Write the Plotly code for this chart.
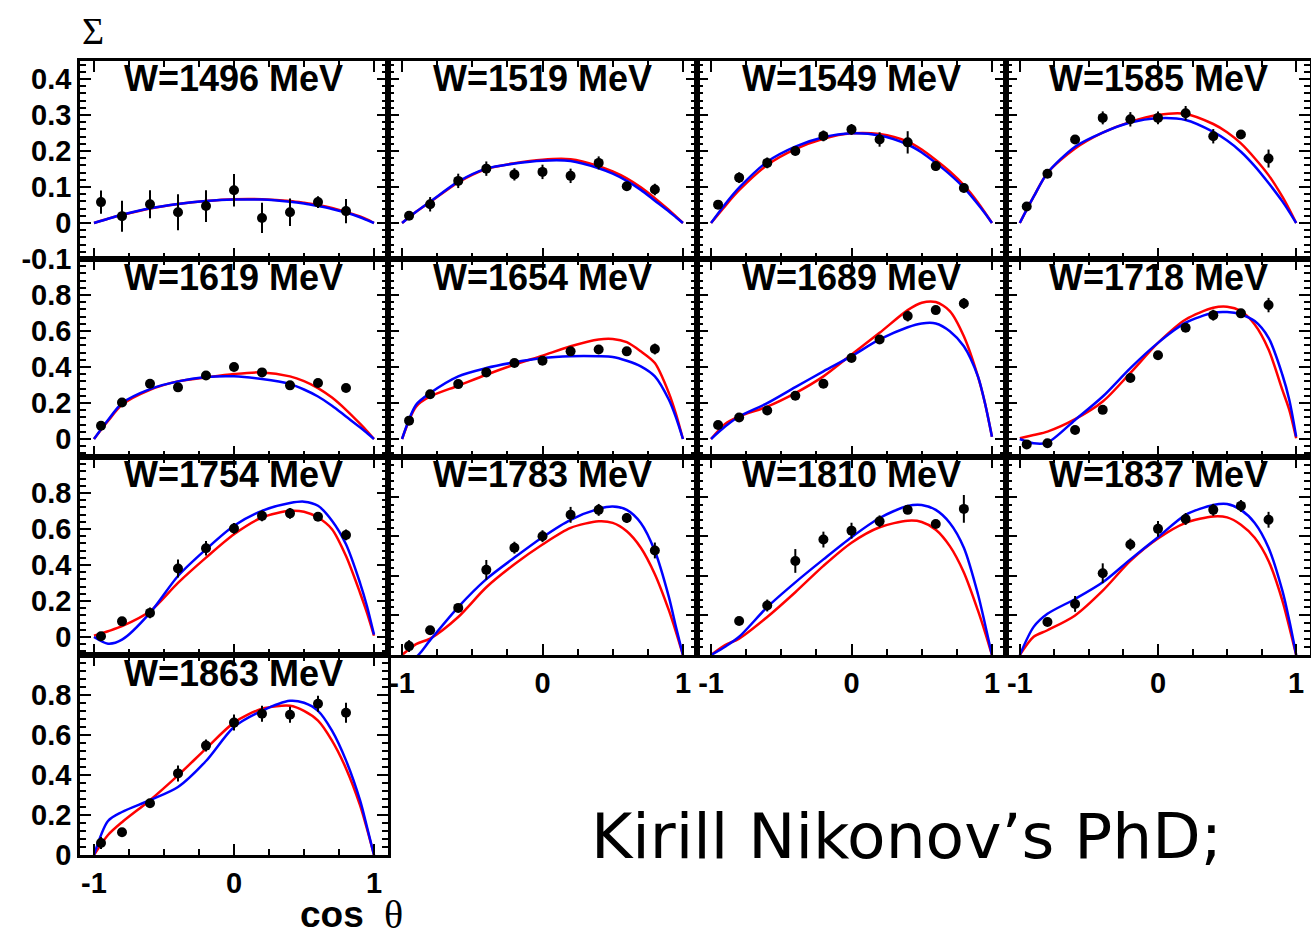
import plotly.graph_objects as go

# Photon energy bins (one panel each)
W_MEV = [1496, 1519, 1549, 1585, 1619, 1654, 1689, 1718, 1754, 1783, 1810, 1837, 1863]

# Measured beam asymmetry: cos(theta) bin centres, values and errors
COS_POINTS = [-0.95, -0.8, -0.6, -0.4, -0.2, 0.0, 0.2, 0.4, 0.6, 0.8]
SIGMA = [
    [0.058, 0.019, 0.052, 0.030, 0.047, 0.091, 0.014, 0.030, 0.058, 0.033],
    [0.020, 0.052, 0.117, 0.151, 0.135, 0.142, 0.131, 0.167, 0.102, 0.093],
    [0.051, 0.126, 0.167, 0.200, 0.242, 0.260, 0.232, 0.224, 0.158, 0.097],
    [0.046, 0.137, 0.232, 0.292, 0.288, 0.292, 0.305, 0.241, 0.246, 0.179],
    [0.074, 0.203, 0.307, 0.287, 0.353, 0.400, 0.370, 0.298, 0.311, 0.283],
    [0.102, 0.249, 0.305, 0.370, 0.422, 0.435, 0.487, 0.497, 0.487, 0.500],
    [0.078, 0.119, 0.158, 0.240, 0.307, 0.450, 0.553, 0.683, 0.716, 0.753],
    [-0.030, -0.024, 0.050, 0.162, 0.339, 0.465, 0.618, 0.688, 0.698, 0.744],
    [0.004, 0.087, 0.134, 0.381, 0.493, 0.603, 0.673, 0.687, 0.668, 0.567],
    [0.045, 0.125, 0.238, 0.430, 0.542, 0.600, 0.708, 0.733, 0.692, 0.528],
    [None, 0.172, 0.250, 0.475, 0.583, 0.628, 0.675, 0.733, 0.662, 0.738],
    [None, 0.167, 0.258, 0.413, 0.558, 0.637, 0.687, 0.733, 0.753, 0.683],
    [0.060, 0.114, 0.259, 0.408, 0.547, 0.662, 0.706, 0.701, 0.756, 0.711],
]
SIGMA_ERR = [
    [0.032, 0.043, 0.039, 0.050, 0.044, 0.045, 0.042, 0.038, 0.016, 0.034],
    [0.010, 0.020, 0.020, 0.020, 0.017, 0.020, 0.020, 0.018, 0.012, 0.016],
    [0.008, 0.015, 0.015, 0.012, 0.015, 0.015, 0.020, 0.031, 0.013, 0.012],
    [0.010, 0.010, 0.010, 0.018, 0.020, 0.018, 0.020, 0.020, 0.012, 0.025],
    [0.012, 0.012, 0.012, 0.015, 0.015, 0.015, 0.015, 0.020, 0.015, 0.015],
    [0.015, 0.015, 0.015, 0.015, 0.015, 0.015, 0.015, 0.025, 0.015, 0.030],
    [0.015, 0.015, 0.015, 0.015, 0.015, 0.015, 0.015, 0.030, 0.015, 0.030],
    [0.020, 0.015, 0.015, 0.015, 0.015, 0.020, 0.020, 0.030, 0.015, 0.040],
    [0.015, 0.020, 0.030, 0.050, 0.040, 0.030, 0.030, 0.030, 0.015, 0.030],
    [0.030, 0.015, 0.020, 0.050, 0.030, 0.030, 0.040, 0.030, 0.025, 0.040],
    [0.000, 0.020, 0.030, 0.060, 0.040, 0.040, 0.030, 0.020, 0.020, 0.070],
    [0.000, 0.020, 0.040, 0.050, 0.030, 0.040, 0.030, 0.030, 0.030, 0.040],
    [0.030, 0.020, 0.020, 0.040, 0.030, 0.040, 0.040, 0.040, 0.040, 0.050],
]

# Partial-wave analysis solutions sampled in cos(theta)
COS_CURVE = [-1.0, -0.9, -0.8, -0.6, -0.4, -0.2, 0.0, 0.2, 0.4, 0.5, 0.6, 0.7, 0.8, 0.9, 0.95, 1.0]
FIT_RED = [
    [0, 0.012, 0.022, 0.040, 0.053, 0.061, 0.066, 0.066, 0.061, 0.056, 0.050, 0.042, 0.031, 0.018, 0.010, 0],
    [0, 0.031, 0.058, 0.113, 0.150, 0.166, 0.176, 0.177, 0.158, 0.143, 0.124, 0.099, 0.069, 0.036, 0.018, 0],
    [0, 0.047, 0.091, 0.161, 0.205, 0.234, 0.249, 0.247, 0.226, 0.204, 0.175, 0.143, 0.105, 0.057, 0.029, 0],
    [0, 0.073, 0.139, 0.207, 0.251, 0.281, 0.300, 0.303, 0.275, 0.252, 0.221, 0.180, 0.133, 0.073, 0.038, 0],
    [0, 0.100, 0.190, 0.273, 0.320, 0.342, 0.361, 0.370, 0.348, 0.322, 0.283, 0.230, 0.162, 0.085, 0.044, 0],
    [0, 0.180, 0.236, 0.296, 0.357, 0.413, 0.463, 0.515, 0.553, 0.556, 0.538, 0.487, 0.422, 0.255, 0.140, 0],
    [0, 0.084, 0.125, 0.180, 0.255, 0.348, 0.469, 0.590, 0.716, 0.757, 0.761, 0.711, 0.571, 0.348, 0.200, 0.013],
    [0.004, 0.022, 0.041, 0.110, 0.208, 0.367, 0.534, 0.664, 0.729, 0.735, 0.711, 0.636, 0.497, 0.273, 0.162, 0.004],
    [0.007, 0.032, 0.060, 0.143, 0.301, 0.441, 0.571, 0.664, 0.701, 0.696, 0.664, 0.599, 0.450, 0.246, 0.134, 0.007],
    [0, 0.055, 0.083, 0.192, 0.342, 0.458, 0.558, 0.642, 0.675, 0.667, 0.625, 0.542, 0.408, 0.225, 0.117, 0],
    [0, 0.050, 0.083, 0.192, 0.317, 0.450, 0.567, 0.645, 0.678, 0.672, 0.633, 0.550, 0.417, 0.225, 0.117, 0],
    [0, 0.092, 0.125, 0.200, 0.325, 0.475, 0.588, 0.667, 0.700, 0.695, 0.658, 0.592, 0.475, 0.275, 0.142, 0],
    [0, 0.100, 0.164, 0.274, 0.398, 0.532, 0.662, 0.731, 0.746, 0.721, 0.672, 0.572, 0.433, 0.249, 0.130, 0],
]
FIT_BLUE = [
    [0, 0.012, 0.023, 0.041, 0.053, 0.061, 0.065, 0.065, 0.059, 0.054, 0.047, 0.039, 0.029, 0.016, 0.008, 0],
    [0, 0.031, 0.059, 0.115, 0.151, 0.165, 0.173, 0.172, 0.152, 0.137, 0.117, 0.092, 0.062, 0.032, 0.016, 0],
    [0, 0.052, 0.098, 0.170, 0.212, 0.238, 0.249, 0.243, 0.218, 0.196, 0.167, 0.135, 0.098, 0.052, 0.027, 0],
    [0, 0.073, 0.139, 0.212, 0.251, 0.279, 0.291, 0.286, 0.253, 0.229, 0.198, 0.158, 0.111, 0.060, 0.031, 0],
    [0, 0.105, 0.199, 0.277, 0.320, 0.344, 0.348, 0.333, 0.305, 0.275, 0.236, 0.185, 0.125, 0.065, 0.033, 0],
    [0, 0.190, 0.255, 0.348, 0.394, 0.426, 0.450, 0.460, 0.460, 0.456, 0.435, 0.404, 0.348, 0.218, 0.120, 0],
    [0, 0.069, 0.125, 0.199, 0.288, 0.376, 0.460, 0.553, 0.621, 0.642, 0.642, 0.599, 0.515, 0.348, 0.200, 0.013],
    [0, -0.024, -0.020, 0.106, 0.236, 0.394, 0.534, 0.646, 0.701, 0.705, 0.692, 0.655, 0.562, 0.357, 0.218, 0.013],
    [0, -0.037, -0.015, 0.134, 0.339, 0.487, 0.618, 0.701, 0.744, 0.752, 0.729, 0.646, 0.515, 0.301, 0.171, 0.013],
    [-0.030, -0.010, 0.075, 0.242, 0.383, 0.492, 0.595, 0.683, 0.738, 0.750, 0.733, 0.667, 0.525, 0.292, 0.142, 0],
    [0, 0.042, 0.092, 0.242, 0.367, 0.483, 0.595, 0.692, 0.753, 0.758, 0.733, 0.667, 0.542, 0.308, 0.158, 0],
    [0, 0.142, 0.208, 0.283, 0.367, 0.483, 0.595, 0.708, 0.758, 0.763, 0.733, 0.667, 0.542, 0.325, 0.175, 0],
    [0, 0.170, 0.215, 0.274, 0.340, 0.470, 0.640, 0.721, 0.771, 0.761, 0.721, 0.622, 0.473, 0.274, 0.140, 0],
]

# Axis tick labels
X_TICKS = [-1, 0, 1]
X_TICK_TEXT = ["-1", "0", "1"]
Y_TICKS_TOP = [-0.1, 0, 0.1, 0.2, 0.3, 0.4]
Y_TICK_TEXT_TOP = ["-0.1", "0", "0.1", "0.2", "0.3", "0.4"]
Y_TICKS = [0, 0.2, 0.4, 0.6, 0.8]
Y_TICK_TEXT = ["0", "0.2", "0.4", "0.6", "0.8"]

# ---- page geometry (pixels) ----
FIG_W, FIG_H = 1311, 937
COL_EDGES = [80, 388, 697, 1006, 1310]
ROW_EDGES = [61, 259, 457, 655, 855]

BOLD = dict(family="Liberation Sans", color="black", weight="bold")

fig = go.Figure()
annotations = []

for k, w in enumerate(W_MEV):
    row, col = divmod(k, 4)
    ax = "" if k == 0 else str(k + 1)
    x0, x1 = COL_EDGES[col] / FIG_W, COL_EDGES[col + 1] / FIG_W
    y1 = 1 - ROW_EDGES[row] / FIG_H
    y0 = 1 - ROW_EDGES[row + 1] / FIG_H

    if row == 0:
        yrange, ytv, ytt, ymin = [-0.1, 0.45], Y_TICKS_TOP, Y_TICK_TEXT_TOP, 0.02
    elif row == 3 or (row == 2 and col > 0):
        yrange, ytv, ytt, ymin = [0, 1.0], Y_TICKS, Y_TICK_TEXT, 0.04
    else:
        yrange, ytv, ytt, ymin = [-0.1, 1.0], Y_TICKS, Y_TICK_TEXT, 0.04

    show_x_labels = (row == 2 and col > 0) or row == 3

    fig.add_trace(go.Scatter(
        x=COS_CURVE, y=FIT_RED[k], mode="lines",
        line=dict(color="#ff0000", width=2.5, shape="spline", smoothing=0.8),
        xaxis="x" + ax, yaxis="y" + ax, showlegend=False, hoverinfo="skip"))
    fig.add_trace(go.Scatter(
        x=COS_CURVE, y=FIT_BLUE[k], mode="lines",
        line=dict(color="#0000ff", width=2.5, shape="spline", smoothing=0.8),
        xaxis="x" + ax, yaxis="y" + ax, showlegend=False, hoverinfo="skip"))
    fig.add_trace(go.Scatter(
        x=COS_POINTS, y=SIGMA[k], mode="markers",
        marker=dict(color="black", size=10),
        error_y=dict(type="data", array=SIGMA_ERR[k], color="black", thickness=2, width=0),
        xaxis="x" + ax, yaxis="y" + ax, showlegend=False))

    common = dict(showline=True, linecolor="black", linewidth=2.5, mirror="allticks",
                  ticks="inside", tickcolor="black", tickwidth=1.5,
                  showgrid=False, zeroline=False, tickmode="array", automargin=False,
                  tickfont=dict(size=29, **BOLD))
    fig.layout["xaxis" + ax] = dict(
        common, domain=[x0, x1], range=[-1.1, 1.1], anchor="y" + ax,
        tickvals=X_TICKS, ticktext=X_TICK_TEXT, ticklen=11,
        showticklabels=show_x_labels,
        minor=dict(tickmode="linear", tick0=0, dtick=0.25, ticklen=6,
                   tickcolor="black", tickwidth=1.5, ticks="inside"))
    fig.layout["yaxis" + ax] = dict(
        common, domain=[y0, y1], range=yrange, anchor="x" + ax,
        tickvals=ytv, ticktext=ytt, ticklen=11,
        showticklabels=(col == 0),
        minor=dict(tickmode="linear", tick0=0, dtick=ymin, ticklen=6,
                   tickcolor="black", tickwidth=1.5, ticks="inside"))

    annotations.append(dict(
        text=f"W={w} MeV", xref="paper", yref="paper",
        x=(x0 + x1) / 2, y=1 - (ROW_EDGES[row] + 18) / FIG_H,
        xanchor="center", yanchor="middle", showarrow=False,
        font=dict(size=36, **BOLD)))

annotations += [
    dict(text="Σ", xref="paper", yref="paper", x=93 / FIG_W, y=1 - 31 / FIG_H,
         xanchor="center", yanchor="middle", showarrow=False,
         font=dict(family="Liberation Serif", size=38, color="black")),
    dict(text="cos", xref="paper", yref="paper", x=366 / FIG_W, y=1 - 914 / FIG_H,
         xanchor="right", yanchor="middle", showarrow=False,
         font=dict(size=37, **BOLD)),
    dict(text="θ", xref="paper", yref="paper", x=393 / FIG_W, y=1 - 914 / FIG_H,
         xanchor="center", yanchor="middle", showarrow=False,
         font=dict(family="Liberation Serif", size=40, color="black")),
    dict(text="Kirill Nikonov’s PhD;", xref="paper", yref="paper",
         x=906 / FIG_W, y=1 - 836 / FIG_H, xanchor="center", yanchor="middle",
         showarrow=False, font=dict(family="DejaVu Sans", size=63, color="black")),
]

fig.update_layout(
    width=FIG_W, height=FIG_H, margin=dict(l=0, r=0, t=0, b=0),
    paper_bgcolor="white", plot_bgcolor="white", annotations=annotations,
)

fig.write_html("out.html")
